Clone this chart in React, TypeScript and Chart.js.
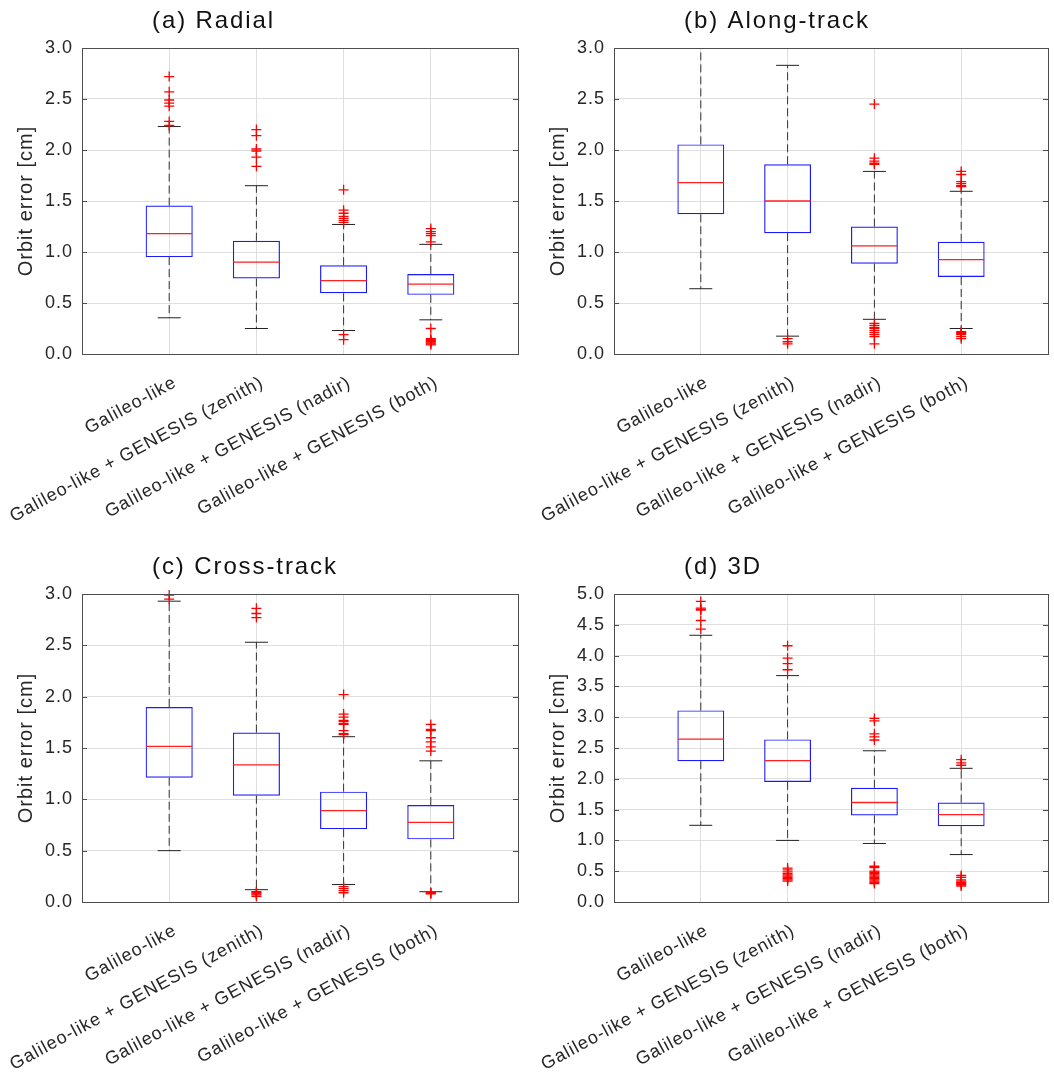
import { useEffect, useRef } from 'react';
import { Chart, registerables } from 'chart.js';

Chart.register(...registerables);

// ---------- data ----------
const CATEGORIES = [
  'Galileo-like',
  'Galileo-like + GENESIS (zenith)',
  'Galileo-like + GENESIS (nadir)',
  'Galileo-like + GENESIS (both)',
];
const CAT_X = [1, 2, 3, 4];

// (a) Radial
const RADIAL_Q1 = [0.95, 0.74, 0.595, 0.58];
const RADIAL_MED = [1.18, 0.9, 0.72, 0.685];
const RADIAL_Q3 = [1.455, 1.11, 0.87, 0.785];
const RADIAL_LO = [0.355, 0.25, 0.23, 0.335];
const RADIAL_HI = [2.23, 1.65, 1.27, 1.075];
const RADIAL_OUT = [
  [2.72, 2.57, 2.49, 2.46, 2.43, 2.28, 2.24],
  [2.2, 2.14, 2.01, 1.99, 1.93, 1.84],
  [1.61, 1.41, 1.38, 1.35, 1.33, 1.31, 1.29, 0.19, 0.14],
  [1.23, 1.2, 1.18, 1.16, 1.1, 0.25, 0.15, 0.14, 0.13, 0.12, 0.11, 0.1, 0.09],
];

// (b) Along-track
const ALONG_Q1 = [1.37, 1.185, 0.885, 0.755];
const ALONG_MED = [1.68, 1.5, 1.06, 0.925];
const ALONG_Q3 = [2.055, 1.86, 1.25, 1.1];
const ALONG_LO = [0.64, 0.175, 0.34, 0.25];
const ALONG_HI = [3.1, 2.83, 1.79, 1.595];
const ALONG_OUT = [
  [],
  [0.15, 0.12, 0.1],
  [2.45, 1.92, 1.89, 1.87, 1.86, 0.3, 0.28, 0.26, 0.25, 0.23, 0.21, 0.19, 0.17, 0.1],
  [1.79, 1.76, 1.69, 1.67, 1.65, 1.64, 0.22, 0.21, 0.2, 0.19, 0.17, 0.15],
];

// (c) Cross-track
const CROSS_Q1 = [1.21, 1.035, 0.71, 0.61];
const CROSS_MED = [1.515, 1.335, 0.89, 0.775];
const CROSS_Q3 = [1.9, 1.65, 1.075, 0.945];
const CROSS_LO = [0.5, 0.12, 0.17, 0.1];
const CROSS_HI = [2.93, 2.53, 1.61, 1.375];
const CROSS_OUT = [
  [2.99, 2.95],
  [2.86, 2.81, 2.77, 0.1, 0.09, 0.08, 0.07, 0.055],
  [2.02, 1.83, 1.8, 1.77, 1.76, 1.74, 1.73, 1.67, 1.64, 1.63, 0.15, 0.13, 0.11, 0.09],
  [1.73, 1.68, 1.67, 1.6, 1.56, 1.51, 1.47, 0.09, 0.085, 0.08],
];

// (d) 3D
const D3_Q1 = [2.285, 1.95, 1.405, 1.23];
const D3_MED = [2.645, 2.295, 1.615, 1.42];
const D3_Q3 = [3.11, 2.64, 1.855, 1.615];
const D3_LO = [1.245, 1.0, 0.95, 0.77];
const D3_HI = [4.33, 3.675, 2.455, 2.17];
const D3_OUT = [
  [4.88, 4.77, 4.75, 4.74, 4.57, 4.43],
  [4.16, 3.96, 3.87, 3.77, 0.55, 0.52, 0.49, 0.46, 0.44, 0.42, 0.4, 0.38, 0.36, 0.34],
  [2.98, 2.94, 2.73, 2.68, 2.63, 0.58, 0.56, 0.5, 0.48, 0.46, 0.44, 0.42, 0.4, 0.38, 0.36, 0.34, 0.32, 0.3],
  [2.31, 2.26, 2.22, 0.43, 0.4, 0.36, 0.34, 0.32, 0.3, 0.28, 0.26],
];

const Y_TITLE = 'Orbit error [cm]';

// ---------- styling / layout ----------
const FONT = "'Liberation Sans', Arial, Helvetica, sans-serif";
const TEXT = '#262626';
const GRID = '#dedede';
const FRAME = '#4d4d4d';
const W = 527;
const H = 538;

type Panel = {
  title: string;
  yMax: number;
  q1: number[];
  med: number[];
  q3: number[];
  lo: number[];
  hi: number[];
  out: number[][];
  x: number;
  y: number;
  area: { l: number; r: number; t: number; b: number };
};

const PANELS: Panel[] = [
  { title: '(a) Radial', yMax: 3, q1: RADIAL_Q1, med: RADIAL_MED, q3: RADIAL_Q3, lo: RADIAL_LO, hi: RADIAL_HI, out: RADIAL_OUT, x: 0, y: 0, area: { l: 82, r: 518, t: 48, b: 354 } },
  { title: '(b) Along-track', yMax: 3, q1: ALONG_Q1, med: ALONG_MED, q3: ALONG_Q3, lo: ALONG_LO, hi: ALONG_HI, out: ALONG_OUT, x: 527, y: 0, area: { l: 87, r: 521, t: 48, b: 354 } },
  { title: '(c) Cross-track', yMax: 3, q1: CROSS_Q1, med: CROSS_MED, q3: CROSS_Q3, lo: CROSS_LO, hi: CROSS_HI, out: CROSS_OUT, x: 0, y: 538, area: { l: 82, r: 518, t: 56, b: 364 } },
  { title: '(d) 3D', yMax: 5, q1: D3_Q1, med: D3_MED, q3: D3_Q3, lo: D3_LO, hi: D3_HI, out: D3_OUT, x: 527, y: 538, area: { l: 87, r: 521, t: 56, b: 364 } },
];

const spacingPlugin = {
  id: 'spacing',
  beforeUpdate(chart: any) {
    (chart.ctx as any).letterSpacing = '1px';
  },
  beforeDraw(chart: any) {
    (chart.ctx as any).letterSpacing = '1px';
  },
};

function makeFramePlugin(title: string) {
  return {
    id: 'frame',
    afterDraw(chart: any) {
      const { ctx, chartArea } = chart;
      const { left, right, top, bottom } = chartArea;
      const yScale = chart.scales.y;
      ctx.save();
      ctx.strokeStyle = FRAME;
      ctx.lineWidth = 1;
      ctx.strokeRect(Math.round(left) + 0.5, Math.round(top) + 0.5, Math.round(right - left), Math.round(bottom - top));
      // inward tick marks on left and right
      ctx.beginPath();
      yScale.ticks.forEach((t: any) => {
        const py = Math.round(yScale.getPixelForValue(t.value)) + 0.5;
        ctx.moveTo(left, py);
        ctx.lineTo(left + 5, py);
        ctx.moveTo(right, py);
        ctx.lineTo(right - 5, py);
      });
      ctx.stroke();
      // title
      (ctx as any).letterSpacing = '1.9px';
      ctx.fillStyle = '#111';
      ctx.font = `24px ${FONT}`;
      ctx.textAlign = 'left';
      ctx.textBaseline = 'alphabetic';
      ctx.fillText(title, left + 70, top - 20);
      ctx.restore();
    },
  };
}

function buildConfig(p: Panel): any {
  const boxData = CAT_X.map((x, i) => ({ x, y: [p.q1[i], p.q3[i]] }));
  const medData = CAT_X.map((x, i) => ({ x, y: p.med[i] }));
  const capData: any[] = [];
  const whiskerData: any[] = [];
  CAT_X.forEach((x, i) => {
    capData.push({ x, y: p.hi[i] }, { x, y: p.lo[i] });
    whiskerData.push(
      { x, y: p.q3[i] },
      { x, y: p.hi[i] },
      { x, y: null },
      { x, y: p.q1[i] },
      { x, y: p.lo[i] },
      { x, y: null }
    );
  });
  const outData: any[] = [];
  CAT_X.forEach((x, i) => p.out[i].forEach((v) => outData.push({ x, y: v })));

  return {
    type: 'bar',
    data: {
      datasets: [
        {
          type: 'scatter',
          label: 'outliers',
          data: outData,
          pointStyle: 'cross',
          pointRadius: 5,
          pointBorderColor: '#ff0000',
          pointBorderWidth: 1.3,
          borderColor: '#ff0000',
          clip: false,
          order: 0,
        },
        {
          type: 'scatter',
          label: 'median',
          data: medData,
          pointStyle: 'line',
          pointRadius: 23,
          pointBorderColor: '#ff2020',
          pointBorderWidth: 1.3,
          borderColor: '#ff2020',
          order: 1,
        },
        {
          type: 'bar',
          label: 'box',
          data: boxData,
          backgroundColor: 'rgba(255,255,255,0)',
          borderColor: '#1a1aff',
          borderWidth: 1.2,
          borderSkipped: false,
          barPercentage: 0.54,
          categoryPercentage: 1,
          order: 2,
        },
        {
          type: 'scatter',
          label: 'caps',
          data: capData,
          pointStyle: 'line',
          pointRadius: 11.5,
          pointBorderColor: '#222',
          pointBorderWidth: 1,
          borderColor: '#222',
          clip: 0,
          order: 3,
        },
        {
          type: 'line',
          label: 'whiskers',
          data: whiskerData,
          borderColor: '#333',
          borderWidth: 1,
          borderDash: [8, 4],
          pointRadius: 0,
          spanGaps: false,
          fill: false,
          clip: 0,
          order: 4,
        },
      ],
    },
    options: {
      responsive: false,
      animation: false,
      events: [],
      layout: { autoPadding: false, padding: { top: p.area.t, right: W - p.area.r, bottom: 0, left: 0 } },
      plugins: { legend: { display: false }, tooltip: { enabled: false } },
      scales: {
        x: {
          type: 'linear',
          min: 0,
          max: 5,
          offset: false,
          afterBuildTicks: (scale: any) => {
            scale.ticks = CAT_X.map((v) => ({ value: v }));
          },
          afterFit: (scale: any) => {
            scale.height = H - p.area.b;
            scale.paddingLeft = 0;
            scale.paddingRight = 0;
          },
          grid: { color: GRID, lineWidth: 1, drawTicks: false, offset: false },
          border: { display: false },
          ticks: {
            autoSkip: false,
            minRotation: 28.5,
            maxRotation: 28.5,
            padding: 18,
            labelOffset: 6,
            color: TEXT,
            font: { family: FONT, size: 18 },
            callback: (v: any) => {
              const idx = CAT_X.indexOf(Number(v));
              return idx >= 0 ? CATEGORIES[idx] : '';
            },
          },
        },
        y: {
          type: 'linear',
          min: 0,
          max: p.yMax,
          afterFit: (scale: any) => {
            scale.width = p.area.l;
          },
          grid: { color: GRID, lineWidth: 1, drawTicks: false },
          border: { display: false },
          ticks: {
            stepSize: 0.5,
            padding: 9,
            color: TEXT,
            font: { family: FONT, size: 18 },
            callback: (v: any) => Number(v).toFixed(1),
          },
          title: {
            display: true,
            text: Y_TITLE,
            color: TEXT,
            font: { family: FONT, size: 20 },
            padding: { top: p.area.l - 56 - 12, bottom: 0 },
          },
        },
      },
    },
    plugins: [spacingPlugin, makeFramePlugin(p.title)],
  };
}

function BoxPanel({ panel }: { panel: Panel }) {
  const ref = useRef<HTMLCanvasElement | null>(null);
  useEffect(() => {
    if (!ref.current) return;
    const chart = new Chart(ref.current, buildConfig(panel));
    return () => chart.destroy();
  }, [panel]);
  return (
    <canvas
      ref={ref}
      width={W}
      height={H}
      style={{ position: 'absolute', left: panel.x, top: panel.y, width: W, height: H, display: 'block' }}
    />
  );
}

export default function App() {
  return (
    <div
      style={{
        position: 'absolute',
        left: 0,
        top: 0,
        width: 1054,
        height: 1076,
        background: '#ffffff',
        overflow: 'hidden',
      }}
    >
      {PANELS.map((p) => (
        <BoxPanel key={p.title} panel={p} />
      ))}
    </div>
  );
}
